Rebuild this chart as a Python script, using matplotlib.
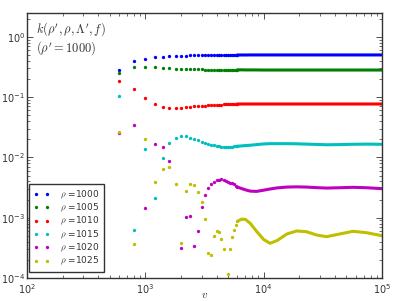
import numpy as np
import matplotlib
matplotlib.use("Agg")
import matplotlib.pyplot as plt

plt.rcParams['mathtext.fontset'] = 'cm'

# sparse (dotted) region: v = 600 ... 6000, step 200
v_dots = [600, 800, 1000, 1200, 1400, 1600, 1800, 2000, 2200, 2400, 2600, 2800,
          3000, 3200, 3400, 3600, 3800, 4000, 4200, 4400, 4600, 4800, 5000,
          5200, 5400, 5600, 5800, 6000]

k1000_dots = [0.281, 0.393, 0.434, 0.457, 0.468, 0.478, 0.483, 0.487, 0.489, 0.491,
              0.493, 0.494, 0.495, 0.496, 0.497, 0.497, 0.498, 0.498, 0.498, 0.499,
              0.499, 0.499, 0.499, 0.499, 0.499, 0.499, 0.499, 0.499]
k1005_dots = [0.254, 0.312, 0.315, 0.312, 0.305, 0.300, 0.297, 0.294, 0.292, 0.290,
              0.289, 0.288, 0.287, 0.286, 0.285, 0.285, 0.284, 0.284, 0.284, 0.283,
              0.283, 0.283, 0.283, 0.283, 0.283, 0.283, 0.283, 0.283]
k1010_dots = [0.187, 0.136, 0.0955, 0.0768, 0.0685, 0.0660, 0.0660, 0.0670, 0.0680,
              0.0690, 0.0700, 0.0710, 0.0718, 0.0725, 0.0731, 0.0737, 0.0742, 0.0746,
              0.0750, 0.0753, 0.0756, 0.0758, 0.0760, 0.0762, 0.0764, 0.0765, 0.0766,
              0.0767]
k1015_dots = [0.103, 6.25e-4, 0.0138, 2.15e-3, 9.66e-3, 0.0171, 0.0210, 0.0223, 0.0223,
              0.0212, 0.0202, 0.0192, 0.0182, 0.0173, 0.0167, 0.0162, 0.0159, 0.0155,
              0.0153, 0.0151, 0.0150, 0.0150, 0.0150, 0.0150, 0.0151, 0.0152, 0.0152,
              0.0153]
k1020_dots = [0.0251, 0.0340, 1.43e-3, 0.0167, 0.01486, 8.71e-3, np.nan, 3.18e-4,
              1.04e-3, 1.07e-3, 3.36e-4, 5.97e-4, 1.50e-3, 2.38e-3, 3.07e-3, 3.58e-3,
              3.95e-3, 4.17e-3, 4.26e-3, 4.30e-3, 4.20e-3, 4.07e-3, 3.95e-3, 3.83e-3,
              3.70e-3, 3.58e-3, 3.40e-3, 3.22e-3]
k1025_dots = [0.0267, 3.66e-4, 0.0204, 3.95e-3, 6.35e-3, 6.93e-3, 3.58e-3, 3.76e-4,
              2.74e-3, 3.62e-3, 3.42e-3, 2.64e-3, 1.80e-3, 9.4e-4, 2.57e-4, 2.43e-4,
              4.93e-4, 6.07e-4, 5.73e-4, 4.49e-4, 3.00e-4, np.nan, 1.16e-4, 3.00e-4,
              4.73e-4, 6.25e-4, 7.43e-4, 8.71e-4]

# dense region (points merge into a continuous band)
v_dense = [6000, 6500, 7000, 7700, 8700, 10000, 11300, 13000, 15700, 19000, 23000,
           28000, 34000, 44000, 57000, 74000, 100000]
k1000_dense = [0.499, 0.499, 0.499, 0.500, 0.500, 0.500, 0.500, 0.500, 0.500, 0.500,
               0.500, 0.500, 0.500, 0.500, 0.500, 0.500, 0.500]
k1005_dense = [0.283, 0.283, 0.282, 0.282, 0.282, 0.281, 0.281, 0.281, 0.281, 0.281,
               0.281, 0.281, 0.281, 0.281, 0.281, 0.281, 0.281]
k1010_dense = [0.0767, 0.0768, 0.0768, 0.0768, 0.0768, 0.0768, 0.0768, 0.0768, 0.0768,
               0.0768, 0.0768, 0.0768, 0.0768, 0.0768, 0.0768, 0.0768, 0.0768]
k1015_dense = [0.0153, 0.0155, 0.0157, 0.0159, 0.0163, 0.0167, 0.0169, 0.0169, 0.0169,
               0.0168, 0.0166, 0.0164, 0.0162, 0.0163, 0.0165, 0.0166, 0.0165]
k1020_dense = [3.22e-3, 3.05e-3, 2.90e-3, 2.76e-3, 2.73e-3, 2.86e-3, 2.99e-3, 3.12e-3,
               3.22e-3, 3.25e-3, 3.22e-3, 3.15e-3, 3.10e-3, 3.14e-3, 3.19e-3, 3.14e-3,
               3.03e-3]
k1025_dense = [8.71e-4, 9.45e-4, 9.4e-4, 8.07e-4, 5.95e-4, 4.35e-4, 3.76e-4, 4.18e-4,
               5.37e-4, 6.02e-4, 5.86e-4, 5.16e-4, 4.84e-4, 5.37e-4, 5.95e-4, 5.64e-4,
               5.03e-4]

labels = [r'$\rho$ =1000', r'$\rho$ =1005', r'$\rho$ =1010',
          r'$\rho$ =1015', r'$\rho$ =1020', r'$\rho$ =1025']
colors = ['#0000ff', '#008000', '#ff0000', '#00bfbf', '#bf00bf', '#bfbf00']

dots = [k1000_dots, k1005_dots, k1010_dots, k1015_dots, k1020_dots, k1025_dots]
dense = [k1000_dense, k1005_dense, k1010_dense, k1015_dense, k1020_dense, k1025_dense]

fig = plt.figure(figsize=(3.99, 3.01), dpi=100)
ax = fig.add_axes([27/399, 1-278/301, (382-27)/399, (278-13)/301])

handles = []
for yd, yl, c, lab in zip(dots, dense, colors, labels):
    h, = ax.plot(v_dots, yd, 'o', color=c, ms=2.4, mew=0, label=lab)
    ax.plot(v_dense, yl, '-', color=c, lw=2.2, solid_capstyle='round')
    handles.append(h)

ax.set_xscale('log')
ax.set_yscale('log')
ax.set_xlim(1e2, 1e5)
ax.set_ylim(1e-4, 2.48)

ax.tick_params(which='both', direction='in', top=True, right=True,
               labelsize=7, colors='#333333')
ax.tick_params(axis='y', which='major', pad=1.5)
ax.tick_params(axis='x', which='major', pad=3)
ax.tick_params(which='major', length=4, width=0.6)
ax.tick_params(which='minor', length=2, width=0.5)
for s in ax.spines.values():
    s.set_linewidth(1.0)
    s.set_color('#333333')

ax.set_xlabel(r'$v$', fontsize=8, color='#333333')
ax.xaxis.set_label_coords(0.5, -0.045)

ax.text(0.025, 0.94, r"$k(\rho', \rho, \Lambda', f)$", transform=ax.transAxes,
        fontsize=9, va='center', ha='left', color='#333333')
ax.text(0.025, 0.868, r"$(\rho' = 1000)$", transform=ax.transAxes,
        fontsize=9, va='center', ha='left', color='#333333')

leg = ax.legend(handles=handles, loc='lower left',
                bbox_to_anchor=(2/355, 6/265), borderaxespad=0,
                numpoints=2, fontsize=6.5,
                fancybox=False, framealpha=1, edgecolor='#333333',
                labelspacing=0.12, handlelength=1.8, handletextpad=1.1,
                borderpad=0.5, markerscale=1.0)
leg.get_frame().set_linewidth(1.0)
for t in leg.get_texts():
    t.set_color('#333333')

fig.savefig('out.png', dpi=100)
